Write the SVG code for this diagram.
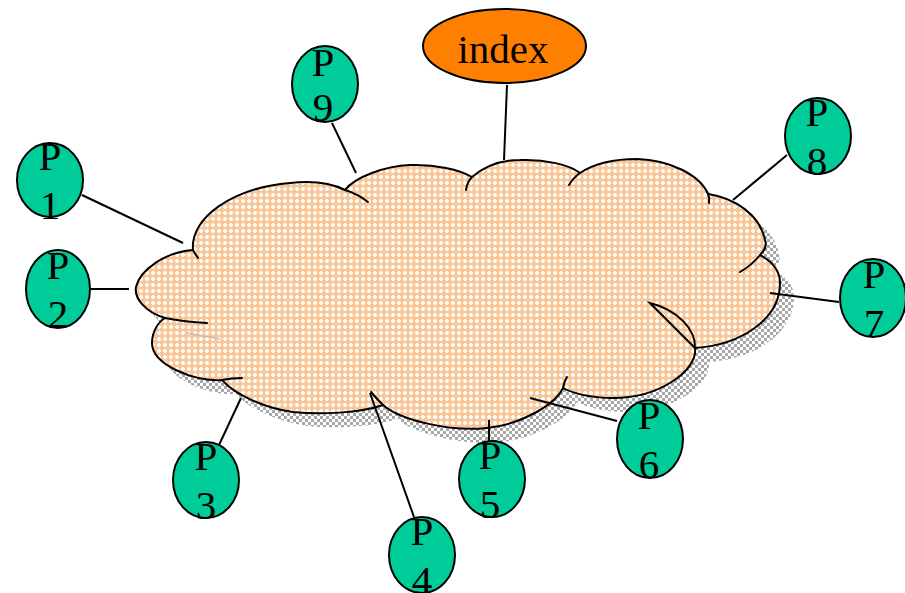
<svg xmlns="http://www.w3.org/2000/svg" xmlns:xlink="http://www.w3.org/1999/xlink" width="905" height="593" viewBox="0 0 905 593">
  <style>
    .node { fill: #00CC99; stroke: #000; stroke-width: 2; }
    .root { fill: #FF8000; stroke: #000; stroke-width: 2; }
    .lbl { font-family: "Liberation Serif", "Times New Roman", serif; font-size: 41px; fill: #000; text-anchor: middle; }
    .edge { stroke: #000; stroke-width: 2; fill: none; }
    .outline { stroke: #000; stroke-width: 2; fill: none; stroke-linecap: round; }
  </style>
  <defs>
    <!-- light orange fill with white crosses -->
    <pattern id="orangeDots" width="6" height="6" patternUnits="userSpaceOnUse">
      <rect width="6" height="6" fill="#FAC597"/>
      <rect x="2" y="1" width="2" height="4" fill="#FFFFFF"/>
      <rect x="1" y="2" width="4" height="2" fill="#FFFFFF"/>
    </pattern>
    <!-- grey checker used for the drop shadow -->
    <pattern id="greyCheck" width="6" height="6" patternUnits="userSpaceOnUse">
      <rect width="6" height="6" fill="#FFFFFF"/>
      <rect x="0" y="0" width="3" height="3" fill="#A8A8A8"/>
      <rect x="3" y="3" width="3" height="3" fill="#A8A8A8"/>
    </pattern>
    <path id="cloudShape" d="M193,250
      C190,218 232,188 290,183
      C318,180 335,185 345,190
      C355,177 385,166 410,165
      C435,164 460,170 472,177
      C485,166 500,160 520,160
      C545,159 570,165 580,173
      C595,163 615,159 637,159
      C670,160 700,175 708,194
      C735,198 760,215 765,240
      C767,245 765,250 760,255
      C773,262 780,272 780,283
      C780,320 740,345 695,348
      C698,370 660,398 613,398
      C590,398 572,393 563,388
      C555,405 520,425 487,428
      C450,432 400,420 383,405
      C360,413 320,415 293,412
      C265,408 235,395 222,380
      C195,382 152,365 152,343
      C152,332 158,322 165,318
      C145,312 134,298 136,287
      C140,270 165,252 193,250 Z"/>
  </defs>

  <!-- cloud: shadow, body, inner curls -->
  <g id="cloud">
    <use xlink:href="#cloudShape" transform="translate(14,14)" fill="url(#greyCheck)"/>
    <use xlink:href="#cloudShape" fill="url(#orangeDots)"/>
    <use xlink:href="#cloudShape" class="outline" stroke-linejoin="round"/>
    <path class="outline" d="M193,250 Q195,254 198,258"/>
    <path class="outline" d="M345,190 Q358,194 368,202"/>
    <path class="outline" d="M472,177 Q467,182 466,190"/>
    <path class="outline" d="M580,173 Q573,178 569,185"/>
    <path class="outline" d="M708,194 Q710,198 709,203"/>
    <path class="outline" d="M760,255 Q752,265 740,272"/>
    <path class="outline" d="M695,348 C696,330 678,310 650,303 L695,348"/>
    <path class="outline" d="M563,388 Q564,382 567,377"/>
    <path class="outline" d="M383,405 Q376,398 371,392"/>
    <path class="outline" d="M222,380 Q232,378 242,378"/>
    <path class="outline" d="M165,318 Q185,322 207,323"/>
    <path d="M187,333 Q203,336 220,339" stroke="#C0C0C0" stroke-width="1.5" fill="none"/>
  </g>

  <!-- connectors -->
  <g id="connectors">
    <line class="edge" x1="507" y1="85" x2="504" y2="160"/>
    <line class="edge" x1="332" y1="123" x2="356" y2="173"/>
    <line class="edge" x1="787" y1="155" x2="733" y2="200"/>
    <line class="edge" x1="770" y1="293" x2="839" y2="302"/>
    <line class="edge" x1="530" y1="398" x2="617" y2="421"/>
    <line class="edge" x1="489" y1="420" x2="489" y2="441"/>
    <line class="edge" x1="370" y1="393" x2="414" y2="517"/>
    <line class="edge" x1="219" y1="445" x2="241" y2="398"/>
    <line class="edge" x1="91" y1="289" x2="129" y2="289"/>
    <line class="edge" x1="82" y1="195" x2="183" y2="243"/>
  </g>

  <g id="index">
    <ellipse class="root" cx="504.5" cy="46" rx="81.5" ry="37"/>
    <text class="lbl" x="503" y="63">index</text>
  </g>
  <g id="p1">
    <ellipse class="node" cx="50" cy="180" rx="33" ry="37"/>
    <text class="lbl" x="50" y="170">P</text>
    <text class="lbl" x="50" y="219">1</text>
  </g>
  <g id="p2">
    <ellipse class="node" cx="58" cy="289" rx="32" ry="39"/>
    <text class="lbl" x="58" y="279">P</text>
    <text class="lbl" x="58" y="328">2</text>
  </g>
  <g id="p3">
    <ellipse class="node" cx="206" cy="480" rx="33" ry="38"/>
    <text class="lbl" x="206" y="470">P</text>
    <text class="lbl" x="206" y="519">3</text>
  </g>
  <g id="p4">
    <ellipse class="node" cx="422" cy="555" rx="33" ry="38"/>
    <text class="lbl" x="422" y="545">P</text>
    <text class="lbl" x="422" y="594">4</text>
  </g>
  <g id="p5">
    <ellipse class="node" cx="492" cy="479" rx="33" ry="38"/>
    <text class="lbl" x="490" y="469">P</text>
    <text class="lbl" x="490" y="518">5</text>
  </g>
  <g id="p6">
    <ellipse class="node" cx="650" cy="439" rx="33" ry="39"/>
    <text class="lbl" x="649" y="429">P</text>
    <text class="lbl" x="649" y="478">6</text>
  </g>
  <g id="p7">
    <ellipse class="node" cx="873" cy="298" rx="33" ry="39"/>
    <text class="lbl" x="874" y="288">P</text>
    <text class="lbl" x="874" y="337">7</text>
  </g>
  <g id="p8">
    <ellipse class="node" cx="818" cy="136" rx="33" ry="38"/>
    <text class="lbl" x="817" y="126">P</text>
    <text class="lbl" x="817" y="175">8</text>
  </g>
  <g id="p9">
    <ellipse class="node" cx="325" cy="84" rx="33" ry="38"/>
    <text class="lbl" x="323" y="76">P</text>
    <text class="lbl" x="323" y="121">9</text>
  </g>
</svg>
